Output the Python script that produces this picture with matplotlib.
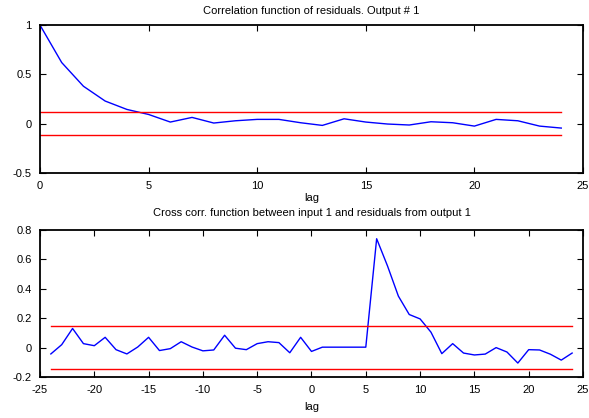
import matplotlib
matplotlib.use("Agg")
import matplotlib.pyplot as plt
import numpy as np

plt.rcParams['font.family'] = ['Liberation Sans', 'DejaVu Sans']
plt.rcParams['axes.unicode_minus'] = False

# Autocorrelation of residuals
auto_lags = list(range(0, 25))
auto_vals = [1.0, 0.62, 0.38, 0.23, 0.145, 0.094, 0.017, 0.064, 0.007, 0.03,
             0.044, 0.044, 0.01, -0.017, 0.05, 0.017, -0.003, -0.013, 0.02,
             0.01, -0.024, 0.044, 0.03, -0.024, -0.044]
auto_conf = 0.115

# Cross correlation between input 1 and residuals
cross_lags = list(range(-24, 25))
cross_vals = [-0.043, 0.02, 0.13, 0.027, 0.013, 0.07, -0.014, -0.043, 0.004,
              0.07, -0.02, -0.007, 0.04, 0.004, -0.022, -0.016, 0.084, -0.004,
              -0.014, 0.027, 0.04, 0.034, -0.035, 0.07, -0.026, 0.003, 0.003,
              0.003, 0.003, 0.003, 0.74, 0.555, 0.35, 0.225, 0.195, 0.105,
              -0.041, 0.027, -0.037, -0.05, -0.044, 0.0, -0.03, -0.105, -0.014,
              -0.016, -0.045, -0.085, -0.037]
cross_conf = 0.145

fig = plt.figure(figsize=(5.89, 4.18), dpi=100)
ax1 = fig.add_axes([0.0679, 0.586, 0.9219, 0.354])
ax2 = fig.add_axes([0.0679, 0.098, 0.9219, 0.352])

fs = 8

def style(ax):
    for s in ax.spines.values():
        s.set_linewidth(1.3)
    ax.tick_params(direction='in', top=True, right=True, length=4,
                   width=0.8, labelsize=fs)
    ax.tick_params(axis='x', pad=6)
    ax.tick_params(axis='y', pad=6)

# Top panel
ax1.plot(auto_lags, auto_vals, color='#0000ff', lw=1.0)
ax1.plot([auto_lags[0], auto_lags[-1]], [auto_conf, auto_conf], color='#ff0000', lw=1.0)
ax1.plot([auto_lags[0], auto_lags[-1]], [-auto_conf, -auto_conf], color='#ff0000', lw=1.0)
ax1.set_xlim(0, 25)
ax1.set_ylim(-0.5, 1)
ax1.set_xticks([0, 5, 10, 15, 20, 25])
ax1.set_yticks([-0.5, 0, 0.5, 1])
ax1.set_yticklabels(['-0.5', '0', '0.5', '1'])
ax1.set_title('Correlation function of residuals. Output # 1', fontsize=fs, pad=8)
ax1.set_xlabel('lag', fontsize=fs, labelpad=1)
style(ax1)

# Bottom panel
ax2.plot(cross_lags, cross_vals, color='#0000ff', lw=1.0)
ax2.plot([cross_lags[0], cross_lags[-1]], [cross_conf, cross_conf], color='#ff0000', lw=1.0)
ax2.plot([cross_lags[0], cross_lags[-1]], [-cross_conf, -cross_conf], color='#ff0000', lw=1.0)
ax2.set_xlim(-25, 25)
ax2.set_ylim(-0.2, 0.8)
ax2.set_xticks([-25, -20, -15, -10, -5, 0, 5, 10, 15, 20, 25])
ax2.set_yticks([-0.2, 0, 0.2, 0.4, 0.6, 0.8])
ax2.set_yticklabels(['-0.2', '0', '0.2', '0.4', '0.6', '0.8'])
ax2.set_title('Cross corr. function between input 1 and residuals from output 1',
              fontsize=fs, pad=10)
ax2.set_xlabel('lag', fontsize=fs, labelpad=5)
style(ax2)

fig.savefig('out.png', dpi=100, facecolor='white')
